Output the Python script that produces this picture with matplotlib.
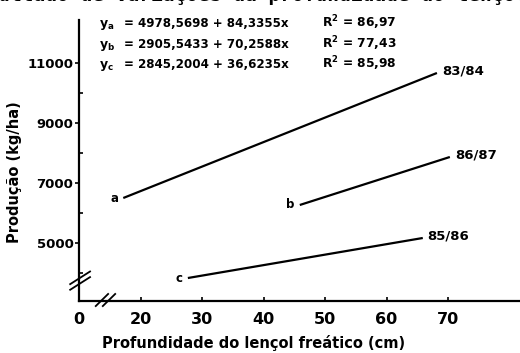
import numpy as np
import matplotlib
matplotlib.use('Agg')
import matplotlib.pyplot as plt

# regression lines (start / end points)
series = ['a', 'b', 'c']
seasons = ['83/84', '86/87', '85/86']
x_start = [17.2, 45.9, 27.7]
x_end = [68.2, 70.3, 65.9]
y_start = [6490, 6257, 3823]
y_end = [10657, 7857, 5157]

equations = ['= 4978,5698 + 84,3355x', '= 2905,5433 + 70,2588x', '= 2845,2004 + 36,6235x']
r2_values = ['86,97', '77,43', '85,98']

x_ticks = [10, 20, 30, 40, 50, 60, 70]
x_ticklabels = ['0', '20', '30', '40', '50', '60', '70']
y_ticks = [5000, 7000, 9000, 11000]
y_minor = [4000, 6000, 8000, 10000]

W, H = 520, 353


def main():
    plt.rcParams['font.family'] = 'DejaVu Sans'
    plt.rcParams['font.weight'] = 'bold'
    plt.rcParams['mathtext.default'] = 'bf'

    fig = plt.figure(figsize=(W / 100, H / 100), dpi=100)
    ax = fig.add_axes([79 / W, 1 - 301 / H, 441 / W, 281 / H])

    for i in range(3):
        ax.plot([x_start[i], x_end[i]], [y_start[i], y_end[i]], color='black', lw=1.6,
                solid_capstyle='butt')
        ax.text(x_start[i] - 0.8, y_start[i], series[i], ha='right', va='center',
                fontsize=8.5, fontweight='bold')
        ax.text(x_end[i] + 0.8, y_end[i] - 150, seasons[i], ha='left', va='bottom',
                fontsize=9.5, fontweight='bold')

    ax.set_xlim(10, 10 + 441 / 6.15)
    ax.set_ylim(3057, 12423)
    ax.set_xticks(x_ticks)
    ax.set_xticklabels(x_ticklabels, fontsize=11.5, fontweight='bold')
    ax.set_yticks(y_ticks)
    ax.set_yticklabels([str(v) for v in y_ticks], fontsize=9.5, fontweight='bold')
    ax.set_yticks(y_minor, minor=True)
    ax.tick_params(axis='x', direction='in', length=3, width=1.2, pad=8)
    ax.tick_params(axis='y', which='major', direction='out', length=3, width=1.2, pad=1)
    ax.tick_params(axis='y', which='minor', direction='in', length=3, width=1.2)

    for s in ['top', 'right']:
        ax.spines[s].set_visible(False)
    ax.spines['left'].set_linewidth(1.6)
    ax.spines['bottom'].set_linewidth(1.6)

    # axis break marks
    for dy in [0, 0.02]:
        ax.plot([-0.02, 0.025], [0.04 + dy, 0.085 + dy], color='black', lw=1.3,
                transform=ax.transAxes, clip_on=False)
    for dx in [0, 0.016]:
        ax.plot([0.038 + dx, 0.066 + dx], [-0.018, 0.025], color='black', lw=1.3,
                transform=ax.transAxes, clip_on=False)

    ax.set_xlabel('Profundidade do lençol freático (cm)', fontsize=10.5, fontweight='bold')
    ax.xaxis.set_label_coords(0.395, -0.12)
    ax.set_ylabel('Produção (kg/ha)', fontsize=10.5, fontweight='bold')
    ax.yaxis.set_label_coords(-0.13, 0.46)

    # regression equations
    subs = ['a', 'b', 'c']
    rows = [27, 48, 68]
    for i in range(3):
        yb = 1 - rows[i] / H
        fig.text(99 / W, yb, 'y$_%s$' % subs[i], fontsize=9, va='baseline')
        fig.text(124 / W, yb, equations[i], fontsize=8.6, va='baseline')
        fig.text(322 / W, yb, 'R$^2$ = ' + r2_values[i], fontsize=8.8, va='baseline')

    # cut-off caption from the page above
    fig.text(-37 / W, 1 - 1 / H, 'Resultado de variações da profundidade do lençol freático',
             family='DejaVu Sans Mono', fontsize=14, fontweight='bold', va='baseline')

    fig.savefig('out.png', dpi=100)


if __name__ == '__main__':
    main()
